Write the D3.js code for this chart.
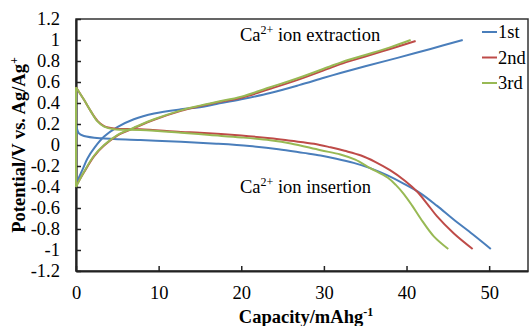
<!DOCTYPE html>
<html>
<head>
<meta charset="utf-8">
<script src="https://cdn.jsdelivr.net/npm/d3@7"></script>
<style>
  body { margin: 0; background: #fff; }
  text { font-family: "Liberation Serif", "Times New Roman", serif; fill: #000; }
</style>
</head>
<body>
<div id="vis"></div>
<script>
// chart data
const seriesNames = ["1st", "2nd", "3rd"];
const seriesColors = ["#4a7ebb", "#be4b48", "#98b954"];

// Ca2+ extraction (charge) curves
const chargeX1 = [0, 0.76, 1.37, 2.2, 3.4, 5, 7, 9.45, 12.7, 15, 17, 20, 23.5, 27, 30, 32, 35, 38.9, 42.9, 46.8];
const chargeY1 = [-0.37, -0.24, -0.13, -0.03, 0.08, 0.17, 0.245, 0.30, 0.34, 0.36, 0.39, 0.435, 0.495, 0.57, 0.64, 0.685, 0.75, 0.83, 0.915, 1.0];
const chargeX2 = [0, 0.97, 2.2, 3.4, 5, 7, 9.45, 12.7, 15, 17, 20, 23.5, 27, 30.8, 32, 34.9, 38, 41.1];
const chargeY2 = [-0.39, -0.26, -0.105, -0.005, 0.09, 0.16, 0.24, 0.325, 0.37, 0.405, 0.45, 0.535, 0.625, 0.735, 0.77, 0.84, 0.915, 0.99];
const chargeX3 = [0, 0.97, 2.2, 3.4, 5, 7, 9.45, 12.7, 15, 17, 20, 23.5, 27, 30.8, 32, 34.9, 38, 40.5];
const chargeY3 = [-0.4, -0.255, -0.1, 0.0, 0.095, 0.165, 0.245, 0.33, 0.375, 0.41, 0.46, 0.55, 0.64, 0.75, 0.785, 0.855, 0.93, 1.0];

// Ca2+ insertion (discharge) curves
const dischX1 = [0, 0.36, 0.97, 3, 7.8, 12.7, 17, 21, 24.5, 27.5, 29.6, 31.5, 33.6, 35.6, 37.7, 39.7, 41.7, 43.7, 45.7, 48, 50.2];
const dischY1 = [0.2, 0.11, 0.086, 0.064, 0.048, 0.03, 0.012, -0.01, -0.04, -0.075, -0.1, -0.13, -0.17, -0.22, -0.29, -0.37, -0.46, -0.58, -0.71, -0.85, -0.99];
const dischX2 = [0, 0.97, 1.8, 2.6, 3.4, 4.6, 7.8, 12.7, 15, 20, 23.5, 26, 28.8, 30.8, 32.5, 34.5, 36.2, 38, 39.8, 41.3, 42.5, 43.7, 45.7, 48];
const dischY2 = [0.55, 0.43, 0.32, 0.23, 0.18, 0.157, 0.15, 0.125, 0.117, 0.09, 0.064, 0.04, 0.012, -0.022, -0.055, -0.1, -0.16, -0.24, -0.34, -0.445, -0.56, -0.68, -0.84, -0.99];
const dischX3 = [0, 0.97, 1.8, 2.6, 3.4, 4.6, 7.8, 12.7, 16.2, 20, 23.5, 26, 29.6, 32, 33.8, 35.6, 37.7, 38.7, 39.7, 40.7, 41.7, 43.3, 45.05];
const dischY3 = [0.55, 0.43, 0.32, 0.225, 0.175, 0.15, 0.143, 0.117, 0.095, 0.072, 0.045, 0.015, -0.05, -0.09, -0.14, -0.22, -0.31, -0.38, -0.47, -0.58, -0.7, -0.87, -0.99];

const xTicks = [0, 10, 20, 30, 40, 50];
const yTicks = [-1.2, -1, -0.8, -0.6, -0.4, -0.2, 0, 0.2, 0.4, 0.6, 0.8, 1, 1.2];

// frame
const FRAME_WIDTH = 530;
const FRAME_HEIGHT = 326;
const MARGINS = {left: 76, right: 2, top: 19, bottom: 55};
const VIS_WIDTH = FRAME_WIDTH - MARGINS.left - MARGINS.right;
const VIS_HEIGHT = FRAME_HEIGHT - MARGINS.top - MARGINS.bottom;

const svg = d3.select("#vis")
  .append("svg")
    .attr("width", FRAME_WIDTH)
    .attr("height", FRAME_HEIGHT);

const X_SCALE = d3.scaleLinear().domain([0, 54.7]).range([MARGINS.left, MARGINS.left + VIS_WIDTH]);
const Y_SCALE = d3.scaleLinear().domain([-1.2, 1.2]).range([MARGINS.top + VIS_HEIGHT, MARGINS.top]);

// plot border
svg.append("rect")
  .attr("x", MARGINS.left)
  .attr("y", MARGINS.top)
  .attr("width", VIS_WIDTH)
  .attr("height", VIS_HEIGHT)
  .attr("fill", "none")
  .attr("stroke", "#333")
  .attr("stroke-width", 1.5);

const fmt = (d) => String(+d.toFixed(1));

// y axis
const yAxis = svg.append("g")
  .attr("transform", "translate(" + MARGINS.left + ",0)")
  .call(d3.axisLeft(Y_SCALE).tickValues(yTicks).tickSize(-5).tickSizeOuter(0).tickPadding(16).tickFormat(fmt));

// x axis
const xAxis = svg.append("g")
  .attr("transform", "translate(0," + (MARGINS.top + VIS_HEIGHT) + ")")
  .call(d3.axisBottom(X_SCALE).tickValues(xTicks).tickSize(-5).tickSizeOuter(0).tickPadding(15).tickFormat(fmt));

[xAxis, yAxis].forEach((g) => {
  g.select(".domain").attr("stroke", "#222").attr("stroke-width", 2.2);
  g.selectAll(".tick line").attr("stroke", "#222").attr("stroke-width", 1.5);
  g.selectAll(".tick text")
    .attr("font-family", "Liberation Serif, serif")
    .attr("font-size", "18.5px")
    .attr("fill", "#000");
});

// curves
const line = d3.line()
  .x((d) => X_SCALE(d[0]))
  .y((d) => Y_SCALE(d[1]))
  .curve(d3.curveCatmullRom.alpha(0.5));

const straight = d3.line()
  .x((d) => X_SCALE(d[0]))
  .y((d) => Y_SCALE(d[1]));

const zip = (xs, ys) => xs.map((x, i) => [x, ys[i]]);

const cycles = [
  {charge: zip(chargeX1, chargeY1), disch: zip(dischX1, dischY1)},
  {charge: zip(chargeX2, chargeY2), disch: zip(dischX2, dischY2)},
  {charge: zip(chargeX3, chargeY3), disch: zip(dischX3, dischY3)}
];

cycles.forEach((c, i) => {
  const g = svg.append("g")
    .attr("fill", "none")
    .attr("stroke", seriesColors[i])
    .attr("stroke-width", 2)
    .attr("stroke-linejoin", "round");
  // rest step at zero capacity
  g.append("path").attr("d", straight([c.disch[0], c.charge[0]]));
  g.append("path").attr("d", line(c.disch));
  g.append("path").attr("d", line(c.charge));
});

// legend
const legend = svg.append("g");
seriesNames.forEach((name, i) => {
  const ly = 32 + i * 25.5;
  legend.append("line")
    .attr("x1", 482).attr("x2", 497)
    .attr("y1", ly).attr("y2", ly)
    .attr("stroke", seriesColors[i])
    .attr("stroke-width", 2);
  legend.append("text")
    .attr("x", 498)
    .attr("y", ly)
    .attr("dy", "0.34em")
    .attr("font-size", "18.5px")
    .text(name);
});

// annotations
function annot(x, y, rest) {
  const t = svg.append("text")
    .attr("x", x)
    .attr("y", y)
    .attr("font-size", "18.5px");
  t.append("tspan").text("Ca");
  t.append("tspan").attr("dy", -7).attr("font-size", "12px").text("2+");
  t.append("tspan").attr("dy", 7).text(" " + rest);
}
annot(240, 41, "ion extraction");
annot(240, 193, "ion insertion");

// axis titles
const xTitle = svg.append("text")
  .attr("x", (MARGINS.left + MARGINS.left + VIS_WIDTH) / 2 + 4)
  .attr("y", 323)
  .attr("text-anchor", "middle")
  .attr("font-weight", "bold")
  .attr("font-size", "18.5px");
xTitle.append("tspan").text("Capacity/mAhg");
xTitle.append("tspan").attr("dy", -7).attr("font-size", "12px").text("-1");

const yTitle = svg.append("text")
  .attr("transform", "translate(25," + (MARGINS.top + VIS_HEIGHT / 2) + ") rotate(-90)")
  .attr("text-anchor", "middle")
  .attr("font-weight", "bold")
  .attr("font-size", "18.5px");
yTitle.append("tspan").text("Potential/V vs. Ag/Ag");
yTitle.append("tspan").attr("dy", -7).attr("font-size", "12px").text("+");
</script>
</body>
</html>
